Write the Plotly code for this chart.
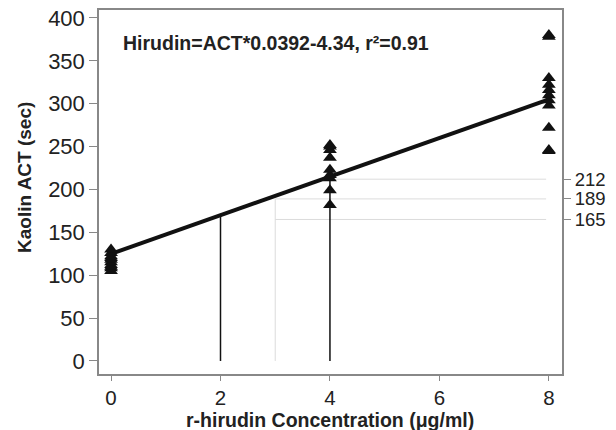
import plotly.graph_objects as go

# Data
conc_0 = [0] * 10
act_0 = [105, 108, 110, 112, 115, 118, 120, 122, 126, 130]
conc_4 = [4] * 9
act_4 = [182, 199, 213, 217, 223, 237, 246, 250, 252]
conc_8 = [8] * 11
act_8 = [245, 246, 272, 298, 304, 310, 316, 322, 330, 378, 380]

fit_x = [0, 8]
fit_y = [125, 305]

drop_x = [2, 4]
drop_top = [170, 215]

ref_levels = [212, 189, 165]
ref_start = [3.85, 3.0, 3.0]
ref_end = 7.95
ref_vline_x = 3
ref_vline_top = 189

equation = "Hirudin=ACT*0.0392-4.34, r²=0.91"
x_title = "r-hirudin Concentration (μg/ml)"
y_title = "Kaolin ACT (sec)"

FONT = "Liberation Sans, Arial, sans-serif"
YR = [-15.2, 409.3]

fig = go.Figure()

# light gray reference lines
fig.add_trace(go.Scatter(x=[ref_vline_x, ref_vline_x], y=[0, ref_vline_top], mode="lines",
                         line=dict(color="#dcdcdc", width=1), showlegend=False, hoverinfo="skip"))
for lv, st in zip(ref_levels, ref_start):
    fig.add_trace(go.Scatter(x=[st, ref_end], y=[lv, lv], mode="lines",
                             line=dict(color="#dcdcdc", width=1), showlegend=False, hoverinfo="skip"))

# black drop lines
for dx, dt in zip(drop_x, drop_top):
    fig.add_trace(go.Scatter(x=[dx, dx], y=[0, dt], mode="lines",
                             line=dict(color="#111111", width=1.5), showlegend=False, hoverinfo="skip"))

# regression line
fig.add_trace(go.Scatter(x=fit_x, y=fit_y, mode="lines",
                         line=dict(color="#111111", width=4), showlegend=False))

# data points
for xs, ys in [(conc_0, act_0), (conc_4, act_4), (conc_8, act_8)]:
    fig.add_trace(go.Scatter(x=xs, y=ys, mode="markers",
                             marker=dict(symbol="triangle-up", size=12, color="#111111"),
                             showlegend=False))

# dummy for right axis
fig.add_trace(go.Scatter(x=[None], y=[None], yaxis="y2", showlegend=False))

fig.update_layout(
    width=616, height=430,
    margin=dict(l=99, r=54, t=10, b=56, autoexpand=False),
    paper_bgcolor="white", plot_bgcolor="white",
    font=dict(family=FONT, color="#222222"),
    xaxis=dict(range=[-0.22, 8.24], tickvals=[0, 2, 4, 6, 8], showgrid=False, zeroline=False,
               ticks="outside", ticklen=5, tickcolor="#888888", tickwidth=1,
               tickfont=dict(size=20.5, color="#222222"),
               showline=True, linecolor="#888888", linewidth=1.5, mirror=True),
    yaxis=dict(range=YR, tickvals=[0, 50, 100, 150, 200, 250, 300, 350, 400], showgrid=False, zeroline=False,
               ticks="outside", ticklen=8, tickcolor="#888888", tickwidth=1,
               tickfont=dict(size=22, color="#222222"),
               showline=True, linecolor="#888888", linewidth=1.5, mirror=True),
    yaxis2=dict(range=YR, overlaying="y", side="right", tickvals=ref_levels,
                ticktext=[str(v) for v in ref_levels], showgrid=False, zeroline=False,
                ticks="outside", ticklen=8, tickcolor="#888888", tickwidth=1,
                tickfont=dict(size=18.5, color="#222222"), showline=False),
)
pw = 616 - 99 - 54
ph = 430 - 10 - 56


def px(x):
    return (x - 99) / pw


def py(y):
    return 1 - (y - 10) / ph


fig.add_annotation(text="<b>" + equation + "</b>", x=px(121), y=py(43),
                   xref="paper", yref="paper", xanchor="left", yanchor="middle",
                   showarrow=False, font=dict(size=19.5, color="#222222"))
fig.add_annotation(text="<b>" + x_title + "</b>", x=px(330), y=py(420),
                   xref="paper", yref="paper", xanchor="center", yanchor="middle",
                   showarrow=False, font=dict(size=19.5, color="#222222"))
fig.add_annotation(text="<b>" + y_title + "</b>", x=px(24), y=py(178), textangle=-90,
                   xref="paper", yref="paper", xanchor="center", yanchor="middle",
                   showarrow=False, font=dict(size=19, color="#222222"))

fig.write_html("out.html", config={"displayModeBar": False},
               post_script="document.body.style.margin='0';")
